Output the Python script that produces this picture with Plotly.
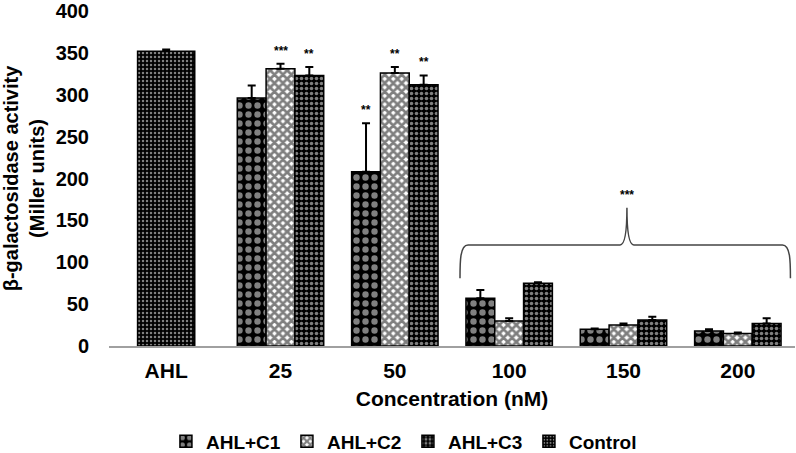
import plotly.graph_objects as go

categories = ["AHL", "25", "50", "100", "150", "200"]
conc_idx = [1, 2, 3, 4, 5]

c1_vals = [296, 208, 57, 20, 18]
c1_err = [15, 58, 10, 1, 2]
c2_vals = [331, 326, 30, 25, 15]
c2_err = [6, 7, 3, 2, 1]
c3_vals = [323, 312, 75, 31, 27]
c3_err = [10, 11, 1, 4, 6]
ctrl_vals = [352]
ctrl_err = [2]

c1_sig = ["", "**", "", "", ""]
c2_sig = ["***", "**", "", "", ""]
c3_sig = ["**", "**", "", "", ""]

FONT = "Liberation Sans, Arial, sans-serif"
BW = 0.252

fig = go.Figure()

def add_series(name, xs, vals, errs, offset, width, color, shape, fg, size, solid):
    fig.add_trace(go.Bar(
        name=name, x=xs, y=vals, offset=offset, width=width,
        marker=dict(color=color, line=dict(color="black", width=1.5),
                    pattern=dict(shape=shape, fgcolor=fg, size=size, solidity=solid,
                                 fillmode="overlay")),
        error_y=dict(type="data", array=errs, arrayminus=[0] * len(errs), symmetric=False,
                     color="black", thickness=2, width=4),
    ))

add_series("AHL+C1", conc_idx, c1_vals, c1_err, -1.5 * BW, BW, "black", ".", "white", 9, 0.4)
add_series("AHL+C2", conc_idx, c2_vals, c2_err, -0.5 * BW, BW, "white", "x", "black", 6, 0.7)
add_series("AHL+C3", conc_idx, c3_vals, c3_err, 0.5 * BW, BW, "black", ".", "white", 5, 0.4)
add_series("Control", [0], ctrl_vals, ctrl_err, -0.25, 0.5, "black", ".", "white", 4, 0.3)

annotations = []
for sigs, vals, errs, k in [(c1_sig, c1_vals, c1_err, -1), (c2_sig, c2_vals, c2_err, 0), (c3_sig, c3_vals, c3_err, 1)]:
    for i, s in enumerate(sigs):
        if s:
            annotations.append(dict(x=conc_idx[i] + k * BW, y=vals[i] + errs[i], text=s,
                                    showarrow=False, yanchor="bottom", yshift=4,
                                    font=dict(family=FONT, size=12, color="black", weight="bold")))

# brace over 100-200 groups
bl, bc, br = 2.57, 4.03, 5.46
y_lo, y_mid, y_peak = 81, 120.6, 165
path = (f"M {bl},{y_lo} C {bl},{y_mid-20} {bl},{y_mid} {bl+0.07},{y_mid} "
        f"L {bc-0.06},{y_mid} Q {bc},{y_mid} {bc},{y_peak} Q {bc},{y_mid} {bc+0.06},{y_mid} "
        f"L {br-0.07},{y_mid} C {br},{y_mid} {br},{y_mid-20} {br},{y_lo}")
fig.add_shape(type="path", path=path, xref="x", yref="y", line=dict(color="#444", width=1.5))
annotations.append(dict(x=bc, y=y_peak, text="***", showarrow=False, yanchor="bottom", yshift=4,
                        font=dict(family=FONT, size=12, color="black", weight="bold")))

fig.update_layout(
    width=796, height=453,
    margin=dict(l=109, r=1, t=11, b=107, autoexpand=False),
    plot_bgcolor="white", paper_bgcolor="white",
    barmode="overlay",
    font=dict(family=FONT, size=20, color="black", weight="bold"),
    annotations=annotations,
    showlegend=True,
    legend=dict(orientation="h", x=0.083, xanchor="left", y=-0.285, yanchor="middle",
                font=dict(family=FONT, size=19, color="black", weight="bold"),
                itemwidth=30, tracegroupgap=0, entrywidth=76, entrywidthmode="pixels"),
)
fig.update_xaxes(range=[-0.5, 5.5], tickvals=list(range(len(categories))), ticktext=categories,
                 tickfont=dict(size=21), ticklabelstandoff=5,
                 showline=True, linecolor="#a0a0a0", linewidth=1.5, showgrid=False, zeroline=False,
                 ticks="", title=dict(text="Concentration (nM)", standoff=10,
                                      font=dict(family=FONT, size=21, weight="bold")))
fig.update_yaxes(range=[0, 400], dtick=50, showline=False, showgrid=False, zeroline=False,
                 ticks="", ticklabelstandoff=19,
                 title=dict(text="β-galactosidase activity<br>(Miller units)", standoff=8,
                            font=dict(family=FONT, size=20, weight="bold")))

fig.write_html("out.html", config={"displayModeBar": False},
               post_script="document.body.style.margin='0';document.body.style.padding='0';")
